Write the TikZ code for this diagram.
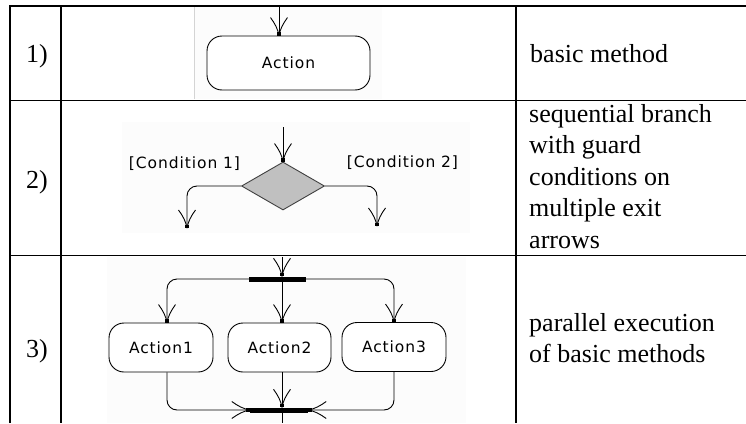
\documentclass[tikz,border=0pt]{standalone}
\usepackage{fontspec}
\setmainfont{Liberation Serif}
\newfontfamily\uifont[LetterSpace=6]{DejaVu Sans}
\usetikzlibrary{shapes.geometric}

% UML open arrowhead: curved barbs with a small solid block at the tip
\pgfdeclarearrow{
  name = UMLOpen,
  setup code = {
    \pgfarrowssettipend{0pt}
    \pgfarrowssetlineend{-1pt}
    \pgfarrowssetvisualbackend{-18pt}
    \pgfarrowssetbackend{-18pt}
    \pgfarrowshullpoint{0pt}{0pt}
    \pgfarrowsupperhullpoint{-18pt}{8pt}
  },
  drawing code = {
    \pgfsetdash{}{0pt}
    \pgfsetroundjoin
    \pgfpathmoveto{\pgfpoint{-18pt}{8.5pt}}
    \pgfpathcurveto{\pgfpoint{-12pt}{4pt}}{\pgfpoint{-6pt}{1pt}}{\pgfpoint{0pt}{0pt}}
    \pgfpathcurveto{\pgfpoint{-6pt}{-1pt}}{\pgfpoint{-12pt}{-4pt}}{\pgfpoint{-18pt}{-8.5pt}}
    \pgfusepathqstroke
    \pgfpathrectangle{\pgfpoint{-3.5pt}{-1.6pt}}{\pgfpoint{3.5pt}{3.2pt}}
    \pgfusepathqfill
  }
}

\definecolor{imgbg}{HTML}{FCFCFC}
\definecolor{imgedge}{HTML}{D4D4D4}
\definecolor{decfill}{HTML}{C0C0C0}
\definecolor{decline}{HTML}{404040}

\tikzset{
  grid/.style={line width=1.8pt, black},
  action/.style={draw, line width=0.9pt, rounded corners=15pt, fill=white,
    font=\uifont\fontsize{15.5}{17}\selectfont, inner sep=0pt},
  decision/.style={diamond, draw=decline, fill=decfill, line width=0.9pt,
    minimum width=83pt, minimum height=48pt, inner sep=0pt},
  guard/.style={font=\uifont\fontsize{15.5}{17}\selectfont, inner sep=0pt},
  flow/.style={line width=0.9pt, -UMLOpen},
  wire/.style={line width=0.9pt},
  bar/.style={fill=black, inner sep=0pt, minimum height=5pt},
  cell/.style={font=\fontsize{26}{31.5}\selectfont, inner sep=0pt},
}

\begin{document}
\begin{tikzpicture}[x=1pt, y=-1pt]
\useasboundingbox (0,0) rectangle (746,423);

% picture backgrounds inside the cells
\fill[imgbg] (194,7) rectangle (382,99);
\draw[imgedge, line width=0.8pt] (194,7) -- (194,99);
\fill[imgbg] (122,122) rectangle (470,233);
\fill[imgbg] (107,257) rectangle (466,423);

% table rules
\draw[grid] (10,423) |- (746,6);
\draw[grid] (10,100.5) -- (746,100.5);
\draw[grid] (10,255.5) -- (746,255.5);
\draw[grid] (61,6) -- (61,423);
\draw[grid] (516,6) -- (516,423);

% column guides for the flows
\coordinate (c1) at (167,0);
\coordinate (c2) at (282,0);
\coordinate (c3) at (394,0);

% row 1: basic method
\node[action, minimum width=163pt, minimum height=54pt] (act) at (288.5,63) {Action};
\coordinate (in1) at (279,7);
\draw[flow] (in1) -- (in1 |- act.north);

% row 2: branch with guards
\node[decision] (dec) at (283,186) {};
\coordinate (in2) at (283,127);
\draw[flow] (in2) -- (dec.north);
\coordinate (out1) at (187,228);
\draw[flow, rounded corners=10pt] (dec.west) -| (out1);
\coordinate (out2) at (377,226);
\draw[flow, rounded corners=10pt] (dec.east) -| (out2);
\node[guard] (g1) at (184.5,164) {[Condition 1]};
\node[guard] (g2) at (402.5,163) {[Condition 2]};

% row 3: fork and join
\node[bar, minimum width=57pt] (fork) at (277.5,279) {};
\coordinate (in3) at (282,257);
\draw[flow] (in3) -- (in3 |- fork.north);
\node[action, minimum width=104pt, minimum height=49pt] (a1) at (161,347.5) {Action1};
\node[action, minimum width=103pt, minimum height=49pt] (a2) at (279.5,347.5) {Action2};
\node[action, minimum width=104pt, minimum height=49pt] (a3) at (394,347) {Action3};
\draw[flow, rounded corners=10pt] (fork.west) -| (a1.north -| c1);
\draw[flow] (fork.south -| c2) -- (a2.north -| c2);
\draw[flow, rounded corners=10pt] (fork.east) -| (a3.north -| c3);
\node[bar, minimum width=58pt] (join) at (279,410) {};
\draw[flow, rounded corners=10pt] (a1.south -| c1) |- (join.west);
\draw[flow] (a2.south -| c2) -- (join.north -| c2);
\draw[flow, rounded corners=10pt] (a3.south -| c3) |- (join.east);
\coordinate (out3) at (282,423);
\draw[wire] (join.south -| c2) -- (out3);

% cell texts
\node[cell, anchor=base west] (n1) at (26,62) {1)};
\node[cell, anchor=base west] (n2) at (26,188) {2)};
\node[cell, anchor=base west] (n3) at (26,357) {3)};
\node[cell, anchor=base west] (d1) at (530,62) {basic method};
\node[cell, anchor=north west, align=left] (d2) at (529,104)
  {sequential branch\\with guard\\conditions on\\multiple exit\\arrows};
\node[cell, anchor=north west, align=left] (d3) at (529,313)
  {parallel execution\\of basic methods};
\end{tikzpicture}
\end{document}
